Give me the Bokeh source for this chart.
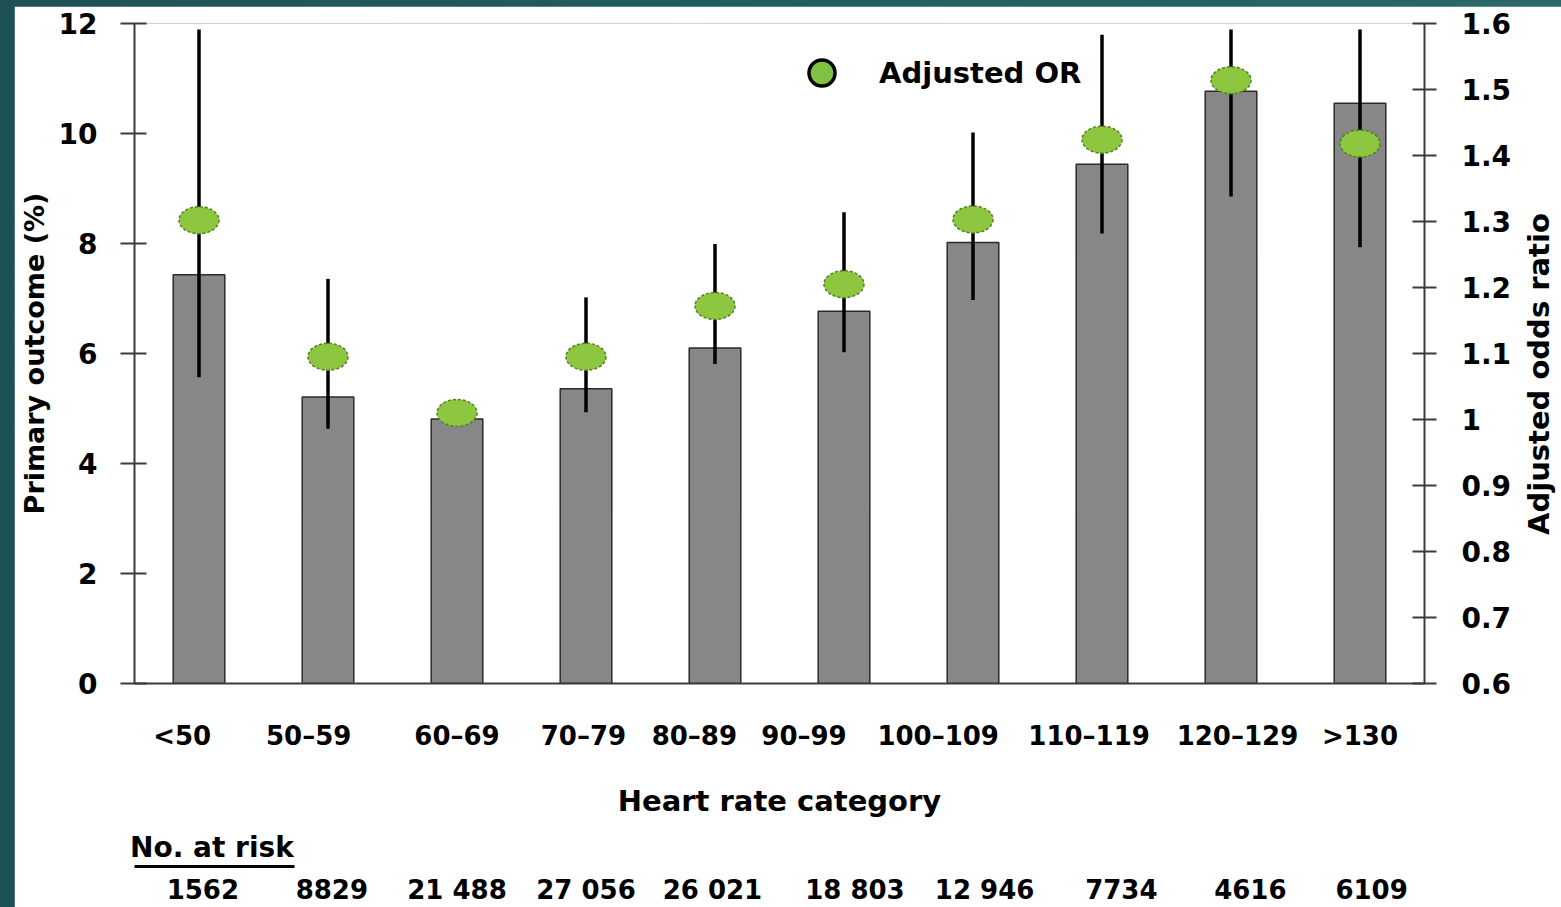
from bokeh.plotting import figure
from bokeh.models import (Range1d, LinearAxis, FixedTicker, ColumnDataSource, Legend,
                          LegendItem, CDSView, IndexFilter)
from bokeh.layouts import column
from bokeh.embed import file_html
from bokeh.resources import INLINE

# ---------------- data ----------------
categories = ["<50", "50–59", "60–69", "70–79", "80–89", "90–99",
              "100–109", "110–119", "120–129", ">130"]
primary_outcome_pct = [7.43, 5.21, 4.81, 5.36, 6.10, 6.77, 8.02, 9.44, 10.77, 10.55]
adjusted_or = [1.302, 1.095, 1.010, 1.095, 1.172, 1.205, 1.303, 1.424, 1.514, 1.418]
or_lower = [1.064, 0.986, None, 1.011, 1.084, 1.102, 1.181, 1.282, 1.338, 1.261]
or_upper = [1.591, 1.213, None, 1.185, 1.266, 1.314, 1.435, 1.583, 1.591, 1.591]
no_at_risk = ["1562", "8829", "21 488", "27 056", "26 021", "18 803",
              "12 946", "7734", "4616", "6109"]
left_ticks = [0, 2, 4, 6, 8, 10, 12]
right_ticks = [0.6, 0.7, 0.8, 0.9, 1, 1.1, 1.2, 1.3, 1.4, 1.5, 1.6]

# label placement nudges (in category widths), as laid out in the original slide
cat_label_nudge = [-0.13, -0.15, 0.0, -0.02, -0.16, -0.31, -0.27, -0.10, 0.05, 0.0]
risk_label_nudge = [0.03, 0.03, 0.0, 0.0, -0.02, 0.085, 0.09, 0.15, 0.15, 0.09]

FONT = "DejaVu Sans"
AX = "#3a3a3a"
TXT = "#000000"

xpos = list(range(len(categories)))

RIGHT = 147
p = figure(x_range=Range1d(-0.5, len(categories) - 0.5),
           y_range=Range1d(0, 12),
           width=120 + 1294 + RIGHT, height=901, output_backend="svg",
           toolbar_location=None,
           min_border_left=120, min_border_right=RIGHT, min_border_top=17,
           min_border_bottom=223, background_fill_color="white",
           border_fill_color="white", outline_line_color=None)
p.margin = (6, 0, 0, 14)
p.extra_y_ranges = {"or": Range1d(0.6, 1.6)}
p.extra_x_ranges = {"offscreen": Range1d(100, 101)}
p.xgrid.grid_line_color = None
p.ygrid.grid_line_color = None

# bars
p.vbar(x=xpos, top=primary_outcome_pct, width=0.40,
       fill_color="#878787", line_color="#2b2b2b", line_width=1.5)

# CI segments (reference category has none)
idx = [i for i in xpos if or_lower[i] is not None]
seg_src = ColumnDataSource(dict(x=idx, lo=[or_lower[i] for i in idx],
                                hi=[or_upper[i] for i in idx]))
p.segment(x0="x", y0="lo", x1="x", y1="hi", source=seg_src, y_range_name="or",
          line_color="black", line_width=3.5)

# OR dots
or_src = ColumnDataSource(dict(x=xpos, y=adjusted_or))
p.ellipse(x="x", y="y", source=or_src, width=40, height=27,
          width_units="screen", height_units="screen", y_range_name="or",
          fill_color="#8DC63F", line_color="#557F25", line_width=1.5, line_dash="3 2")

# legend symbol: a proxy renderer mapped to an off-screen range (draws nothing visible)
leg_r = p.scatter(x="x", y="y", source=or_src, view=CDSView(filter=IndexFilter(indices=[0])),
                  x_range_name="offscreen", y_range_name="or", marker="circle", size=26,
                  fill_color="#7DC242", line_color="black", line_width=3.5)
legend = Legend(items=[LegendItem(label="Adjusted OR", renderers=[leg_r])],
                location=(655, 578), border_line_color=None, background_fill_alpha=0,
                padding=0, margin=0, glyph_width=65, glyph_height=65, label_standoff=25,
                label_text_font=FONT, label_text_font_style="bold", label_text_color=TXT,
                label_text_font_size="29px", label_height=30, spacing=0)
p.add_layout(legend)


def style_ticks(ax, size):
    ax.major_label_text_font = FONT
    ax.major_label_text_font_style = "bold"
    ax.major_label_text_font_size = size
    ax.major_label_text_color = TXT
    ax.minor_tick_out = 0
    ax.minor_tick_in = 0


def style_title(ax, size):
    ax.axis_label_text_font = FONT
    ax.axis_label_text_font_style = "bold"
    ax.axis_label_text_font_size = size
    ax.axis_label_text_color = TXT


# left axis
ya = p.yaxis[0]
ya.ticker = FixedTicker(ticks=left_ticks)
ya.axis_label = "Primary outcome (%)"
style_title(ya, "27px")
ya.axis_label_standoff = 6
style_ticks(ya, "28px")
ya.major_label_standoff = 23
ya.major_tick_out = 14
ya.major_tick_in = 12
ya.axis_line_color = AX
ya.axis_line_width = 2
ya.major_tick_line_color = AX
ya.major_tick_line_width = 2

# right axis (ticks)
ra = LinearAxis(y_range_name="or", ticker=FixedTicker(ticks=right_ticks),
                major_label_overrides={1: "1"})
style_ticks(ra, "28px")
ra.major_label_standoff = 25
ra.major_tick_out = 12
ra.major_tick_in = 12
ra.axis_line_color = AX
ra.axis_line_width = 2
ra.major_tick_line_color = AX
ra.major_tick_line_width = 2
p.add_layout(ra, "right")

# right axis title, reading bottom-to-top, starting where the slide has it
TITLE_AT = 0.825
rt = LinearAxis(y_range_name="or", ticker=FixedTicker(ticks=[TITLE_AT]),
                major_label_overrides={TITLE_AT: "Adjusted odds ratio"})
style_ticks(rt, "29px")
rt.major_label_orientation = 1.5707963267948966
rt.major_label_standoff = 24
rt.axis_line_color = None
rt.major_tick_out = 0
rt.major_tick_in = 0
p.add_layout(rt, "right")

# bottom axis (heart-rate categories)
cat_ticks = [x + d for x, d in zip(xpos, cat_label_nudge)]
xa = p.xaxis[0]
xa.ticker = FixedTicker(ticks=cat_ticks)
xa.major_label_overrides = dict(zip(cat_ticks, categories))
xa.axis_label = "Heart rate category"
style_title(xa, "29px")
xa.axis_label_standoff = 30
style_ticks(xa, "26px")
xa.major_label_standoff = 37
xa.major_tick_out = 0
xa.major_tick_in = 0
xa.axis_line_color = AX
xa.axis_line_width = 2

# "No. at risk" header
HDR_POS = 0.1
hdr = LinearAxis(ticker=FixedTicker(ticks=[HDR_POS]),
                 major_label_overrides={HDR_POS: "No. at risk"})
style_ticks(hdr, "28px")
hdr.axis_line_color = None
hdr.major_tick_out = 0
hdr.major_tick_in = 0
hdr.major_label_standoff = 10
p.add_layout(hdr, "below")

# underline of the header
ul = LinearAxis(ticker=FixedTicker(ticks=[]), bounds=(-0.5, 0.74))
ul.axis_line_color = "black"
ul.axis_line_width = 3
ul.major_tick_out = 0
ul.major_tick_in = 0
ul.major_label_standoff = 0
ul.major_label_text_font_size = "1px"
p.add_layout(ul, "below")

# number at risk row
risk_ticks = [x + d for x, d in zip(xpos, risk_label_nudge)]
risk = LinearAxis(ticker=FixedTicker(ticks=risk_ticks),
                  major_label_overrides=dict(zip(risk_ticks, no_at_risk)))
style_ticks(risk, "26px")
risk.axis_line_color = None
risk.major_tick_out = 0
risk.major_tick_in = 0
risk.major_label_standoff = 8
p.add_layout(risk, "below")

page = column(p, width=1561, height=907,
              styles={"background": "linear-gradient(90deg, #1d5255 0%, #2b6868 100%)",
                      "overflow": "hidden"})

open("out.html", "w").write(file_html(page, INLINE))
